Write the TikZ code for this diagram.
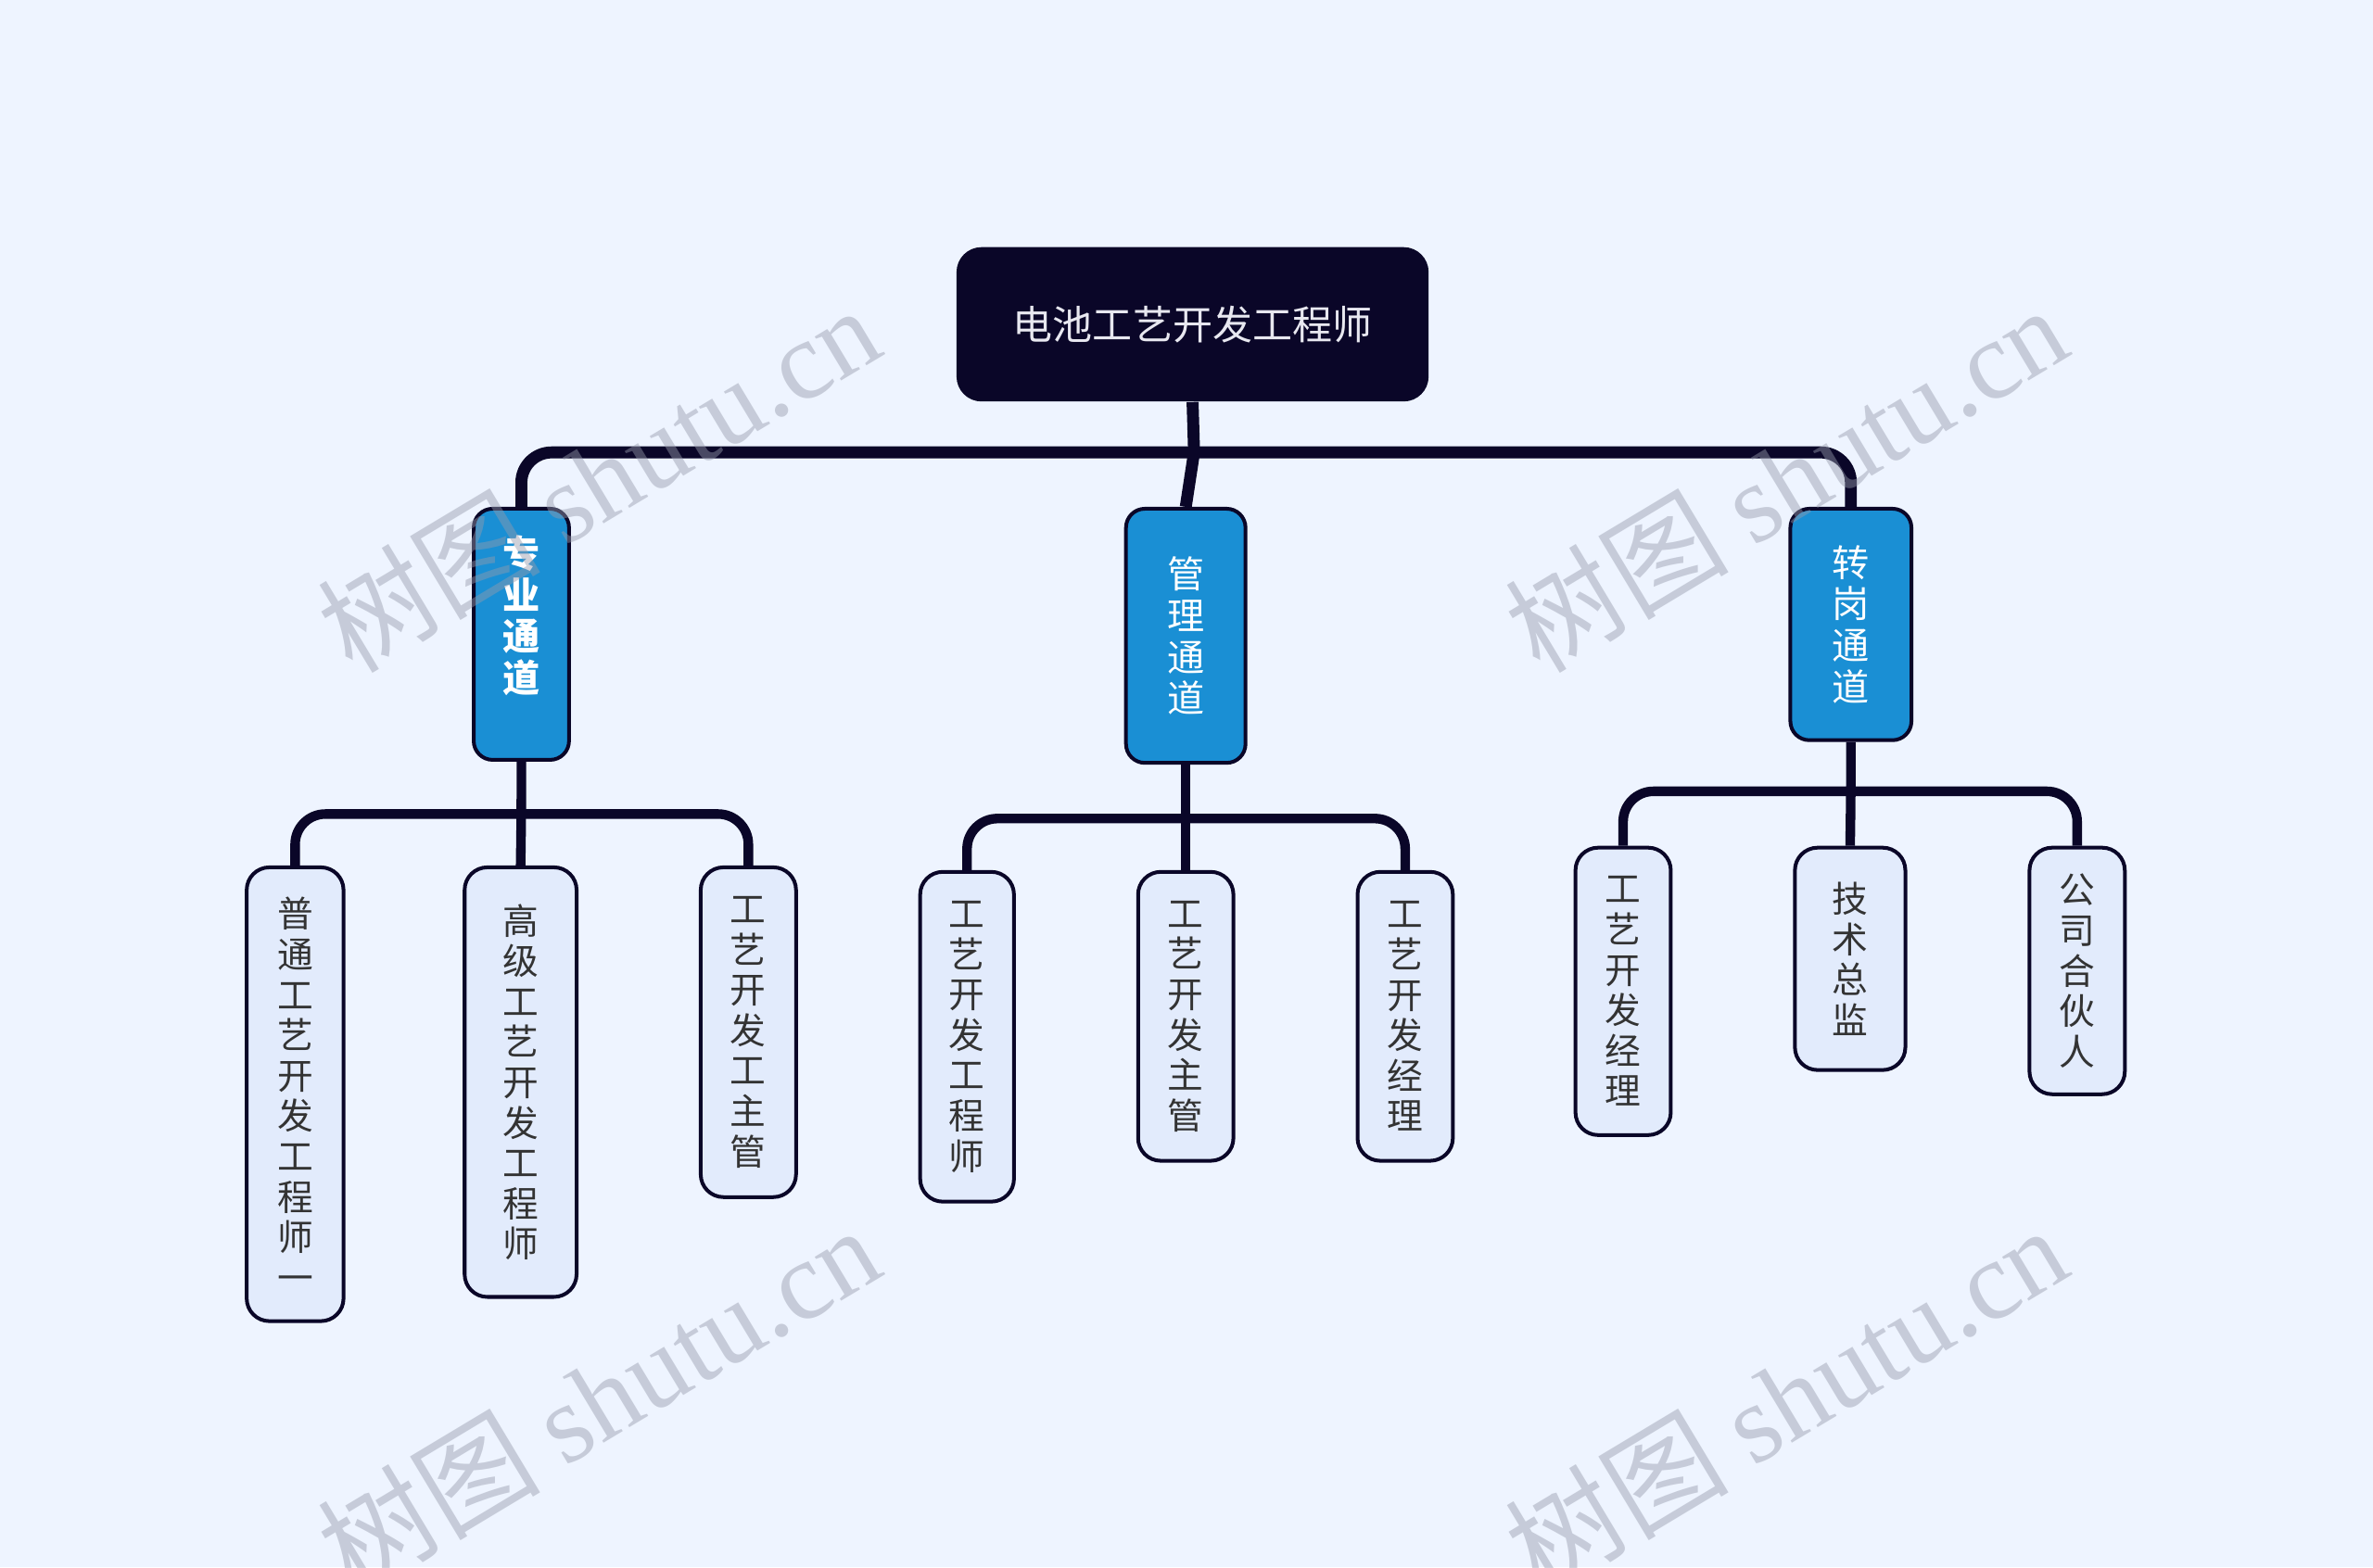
\documentclass[tikz,border=0pt]{standalone}
\usepackage{fontspec}
\setmainfont{Noto Sans CJK SC}
\newfontfamily\wmlatin{Liberation Serif}
\usetikzlibrary{positioning}
\definecolor{bgBlue}{RGB}{238,244,255}
\definecolor{rootNavy}{RGB}{10,6,40}
\definecolor{laneBlue}{RGB}{26,143,212}
\definecolor{leafFill}{RGB}{226,235,252}
\definecolor{leafText}{RGB}{51,51,51}
\definecolor{wmGray}{RGB}{150,155,172}
\tikzset{
  rootbox/.style={fill=rootNavy,text={rgb,255:red,232;green,232;blue,240},rounded corners=0.33cm,inner sep=0pt,anchor=north,font=\fontsize{15}{18}\selectfont},
  lanebox/.style={draw=rootNavy,line width=1.4pt,fill=laneBlue,text=white,rounded corners=0.25cm,inner sep=0pt,anchor=north,align=center,font=\fontsize{14}{15.6}\selectfont},
  leafbox/.style={draw=rootNavy,line width=1.4pt,fill=leafFill,text=leafText,rounded corners=0.3cm,inner sep=0pt,anchor=north,align=center,font=\fontsize{13.5}{15.2}\selectfont},
  bus/.style={draw=rootNavy,line width=4.5pt,rounded corners=0.4cm},
  twig/.style={draw=rootNavy,line width=3.6pt,rounded corners=0.4cm},
  wm/.style={text=wmGray,text opacity=0.45,rotate=31,font=\fontsize{42}{42}\selectfont}
}
\begin{document}
\begin{tikzpicture}[x=0.02cm,y=-0.02cm]
\fill[bgBlue] (0,0) rectangle (1568,1036);\useasboundingbox (0,0) rectangle (1568,1036);
% root and lanes
\node[rootbox,minimum width=6.24cm,minimum height=2.04cm] (root) at (788,163) {电池工艺开发工程师};
\node[lanebox,minimum width=1.26cm,minimum height=3.32cm,font=\fontsize{14}{15.6}\selectfont\bfseries] (pro) at (344.5,335) {专\\业\\通\\道\\~};
\node[lanebox,minimum width=1.58cm,minimum height=3.36cm] (mgmt) at (783.5,335) {管\\理\\通\\道};
\node[lanebox,minimum width=1.60cm,minimum height=3.06cm] (trans) at (1223,335) {转\\岗\\通\\道};
% leaves
\node[leafbox,minimum width=1.28cm,minimum height=6.00cm] (a1) at (195,572) {普\\通\\工\\艺\\开\\发\\工\\程\\师\\一};
\node[leafbox,minimum width=1.48cm,minimum height=5.68cm] (a2) at (344,572) {高\\级\\工\\艺\\开\\发\\工\\程\\师};
\node[leafbox,minimum width=1.26cm,minimum height=4.36cm] (a3) at (494.5,572) {工\\艺\\开\\发\\工\\主\\管};
\node[leafbox,minimum width=1.24cm,minimum height=4.36cm] (b1) at (639,575) {工\\艺\\开\\发\\工\\程\\师};
\node[leafbox,minimum width=1.26cm,minimum height=3.82cm] (b2) at (783.5,575) {工\\艺\\开\\发\\主\\管};
\node[leafbox,minimum width=1.26cm,minimum height=3.82cm] (b3) at (928.5,575) {工\\艺\\开\\发\\经\\理};
\node[leafbox,minimum width=1.26cm,minimum height=3.80cm] (c1) at (1072.5,559) {工\\艺\\开\\发\\经\\理};
\node[leafbox,minimum width=1.46cm,minimum height=2.94cm] (c2) at (1222.5,559) {技\\术\\总\\监};
\node[leafbox,minimum width=1.26cm,minimum height=3.26cm] (c3) at (1372.5,559) {公\\司\\合\\伙\\人};
% connectors
\coordinate (hub) at (789,299);\coordinate (k1) at (344.5,538);\coordinate (k2) at (783.5,541);\coordinate (k3) at (1223,523);
\draw[bus,sharp corners] (root.south) -- (hub) -- (mgmt.north);
\draw[bus] (pro.north) |- (hub) -| (trans.north);
\draw[twig] (pro.south) -- (k1) -- (a2.north);\draw[twig] (a1.north) |- (k1) -| (a3.north);
\draw[twig] (mgmt.south) -- (k2) -- (b2.north);\draw[twig] (b1.north) |- (k2) -| (b3.north);
\draw[twig] (trans.south) -- (k3) -- (c2.north);\draw[twig] (c1.north) |- (k3) -| (c3.north);
% watermarks
\node[wm] (wm1) at (395,316) {树图 {\wmlatin shutu.cn}};
\node[wm] (wm2) at (1180,316) {树图 {\wmlatin shutu.cn}};
\node[wm] (wm3) at (395,924) {树图 {\wmlatin shutu.cn}};
\node[wm] (wm4) at (1180,924) {树图 {\wmlatin shutu.cn}};
\end{tikzpicture}
\end{document}
